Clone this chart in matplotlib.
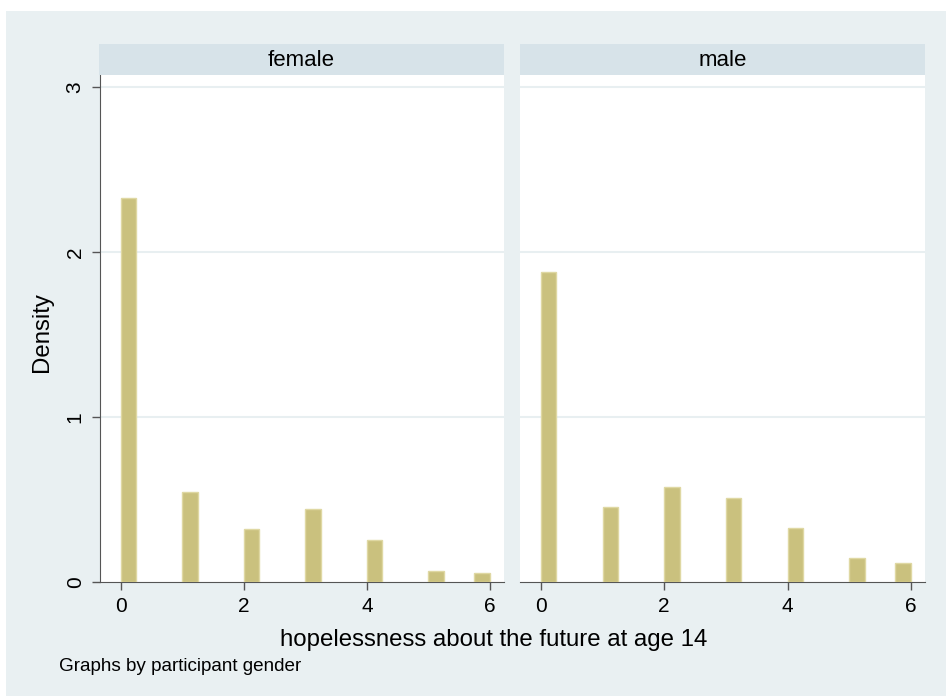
import matplotlib.pyplot as plt
from matplotlib.patches import Rectangle

# hopelessness score (0-6) and histogram density by gender
scores = [0, 1, 2, 3, 4, 5, 6]
female_density = [2.33, 0.545, 0.32, 0.44, 0.255, 0.065, 0.055]
male_density = [1.88, 0.455, 0.575, 0.51, 0.325, 0.143, 0.117]
panels = ["female", "male"]
yticks = [0, 1, 2, 3]
xticks = [0, 2, 4, 6]

bin_width = 0.25
bar_color = "#cac17e"
bar_edge = "#dfd8a3"
bg_color = "#e9f0f2"
strip_color = "#d7e3e9"
grid_color = "#e8eff1"
axis_color = "#555555"

W, H = 946, 696
plt.rcParams["font.family"] = ["Liberation Sans", "DejaVu Sans"]

fig = plt.figure(figsize=(W / 100, H / 100), dpi=100, facecolor="white")


def box(x0, y0, x1, y1):
    # pixel box (top-left origin) -> figure fraction rect
    return [x0 / W, 1 - y1 / H, (x1 - x0) / W, (y1 - y0) / H]


# graph region background
fig.patches.append(Rectangle((6 / W, 0), 940 / W, (H - 11) / H,
                             transform=fig.transFigure, facecolor=bg_color,
                             edgecolor="none", zorder=-10))

panel_x = [(100, 504), (520, 925)]
data = [female_density, male_density]

for i, (name, dens) in enumerate(zip(panels, data)):
    x0, x1 = panel_x[i]
    ax = fig.add_axes(box(x0, 75, x1, 582))
    ax.set_facecolor("white")

    # bins of width 0.25 starting at 0; the top value lands in the last bin
    lefts = [min(s, scores[-1] - bin_width) for s in scores]
    ax.bar(lefts, dens, width=bin_width, align="edge", color=bar_color,
           edgecolor=bar_edge, linewidth=1, zorder=3)

    ax.set_xlim(-0.34, 6.23)
    ax.set_ylim(0, 3.073)
    ax.set_yticks(yticks)
    ax.set_xticks(xticks)
    for y in yticks[1:]:
        ax.axhline(y, color=grid_color, linewidth=1.5, zorder=1)

    for side in ["top", "right"]:
        ax.spines[side].set_visible(False)
    ax.spines["bottom"].set_color(axis_color)
    ax.spines["left"].set_color(axis_color)
    ax.tick_params(axis="both", colors=axis_color, labelcolor="black",
                   length=6, width=1, labelsize=15, pad=5)
    if i == 0:
        for lbl in ax.get_yticklabels():
            lbl.set_rotation(90)
            lbl.set_va("center")
    else:
        ax.spines["left"].set_visible(False)
        ax.tick_params(axis="y", left=False, labelleft=False)

    # panel strip
    sax = fig.add_axes(box(x0 - 1 if i == 0 else x0, 44, x1, 75))
    sax.set_facecolor(strip_color)
    sax.set_xticks([])
    sax.set_yticks([])
    for sp in sax.spines.values():
        sp.set_visible(False)
    sax.text(0.5, 0.47, name, ha="center", va="center", fontsize=16,
             transform=sax.transAxes)

fig.text(494 / W, 1 - 646 / H, "hopelessness about the future at age 14",
         ha="center", va="baseline", fontsize=17.3)
fig.text(42 / W, 1 - 332 / H, "Density", rotation=90,
         ha="center", va="center", fontsize=17.3)
fig.text(59 / W, 1 - 671 / H, "Graphs by participant gender",
         ha="left", va="baseline", fontsize=13.6)

fig.savefig("out.png", dpi=100, facecolor="white")
